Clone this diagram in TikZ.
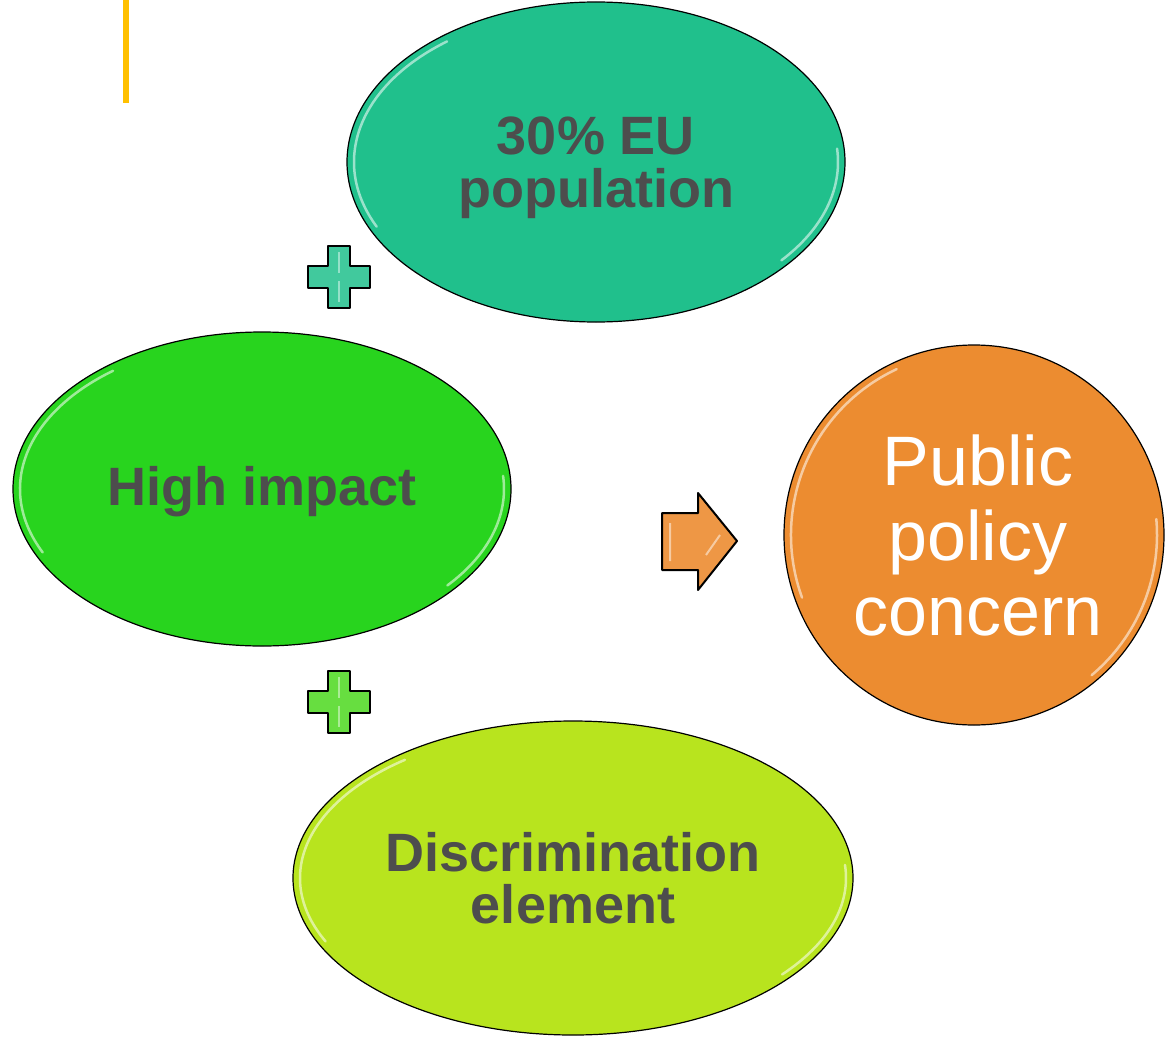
\documentclass[tikz,border=0pt]{standalone}
\usepackage{fontspec}
\setmainfont{Liberation Sans}
\usetikzlibrary{shapes.geometric,calc}
\definecolor{teal1}{HTML}{20C08C}
\definecolor{green1}{HTML}{28D41E}
\definecolor{lime1}{HTML}{B8E41E}
\definecolor{orange1}{HTML}{EC8C30}
\definecolor{bar1}{HTML}{FFC000}
\definecolor{txt}{HTML}{4D4D4D}
\tikzset{
  blob/.style={ellipse, draw=black, line width=1.2pt, inner sep=0pt},
  hl/.style={white, opacity=0.55, line width=2.5pt, line cap=round},
  plusshape/.style={draw=black, line width=2pt, line join=round},
  pics/plus/.style={code={
    \draw[plusshape, fill=#1] (-11,-31) -- (11,-31) -- (11,-11) -- (31,-11) -- (31,11) -- (11,11)
      -- (11,31) -- (-11,31) -- (-11,11) -- (-31,11) -- (-31,-11) -- (-11,-11) -- cycle;
    \draw[white, opacity=0.45, line width=2pt] (0,-25) -- (0,-4) (0,4) -- (0,25);
  }}
}
\newcommand{\hlarc}[5]{% node, rx, ry, start, end (coordinate angles; y points down)
  \draw[hl] ($(#1.center)+({#2*cos(#4)},{#3*sin(#4)})$)
    arc[start angle=#4, end angle=#5, x radius=#2, y radius=#3];}
\begin{document}
\begin{tikzpicture}[x=1pt,y=-1pt]
\useasboundingbox (0,0) rectangle (1166,1038);
% yellow bar
\fill[bar1] (123,0) rectangle (129,103);
% ellipses
\node[blob, fill=teal1, minimum width=498pt, minimum height=320pt] (pop) at (596,162) {};
\node[blob, fill=green1, minimum width=498pt, minimum height=314pt] (imp) at (262,489) {};
\node[blob, fill=lime1, minimum width=560pt, minimum height=314pt] (dis) at (573,878) {};
\node[circle, draw=black, line width=1.2pt, fill=orange1, minimum size=380pt, inner sep=0pt]
  (pub) at (974,535) {};
% highlights (visual left and lower-right inner rims)
\hlarc{pop}{242}{153}{-128}{-205}
\hlarc{pop}{242}{153}{40}{-5}
\hlarc{imp}{242}{150}{-128}{-205}
\hlarc{imp}{242}{150}{40}{-5}
\hlarc{dis}{273}{150}{-128}{-205}
\hlarc{dis}{273}{150}{40}{-5}
\hlarc{pub}{183}{183}{-115}{-200}
\hlarc{pub}{183}{183}{50}{-5}
% texts
\node[align=center, text=txt, font=\bfseries\fontsize{54}{54}\selectfont] (popt)
  at ([yshift=-6pt]pop.center) {30\% EU\\[-1pt]population};
\node[text=txt, font=\bfseries\fontsize{54}{54}\selectfont] (impt)
  at ([yshift=-3pt]imp.center) {High impact};
\node[align=center, text=txt, font=\bfseries\fontsize{54}{54}\selectfont] (dist)
  at (dis.center) {Discrimination\\[-2pt]element};
\node[align=center, text=white, font=\fontsize{70}{75}\selectfont] (pubt)
  at ([xshift=4pt]pub.center) {Public\\policy\\concern};
% pluses
\coordinate (p1) at (339,277);
\coordinate (p2) at (339,702);
\pic at (p1) {plus={teal1!85!white}};
\pic at (p2) {plus={green1!75!lime1!85!white}};
% arrow
\coordinate (ar) at (700,541);
\draw[plusshape, fill=orange1!90!white, shift={(ar)}]
  (-38,-28) -- (-2,-28) -- (-2,-48) -- (37,0) -- (-2,49) -- (-2,29) -- (-38,29) -- cycle;
\draw[white, opacity=0.5, line width=2pt, shift={(ar)}] (-30,-18) -- (-30,20) (20,-6) -- (6,14);
\end{tikzpicture}
\end{document}
